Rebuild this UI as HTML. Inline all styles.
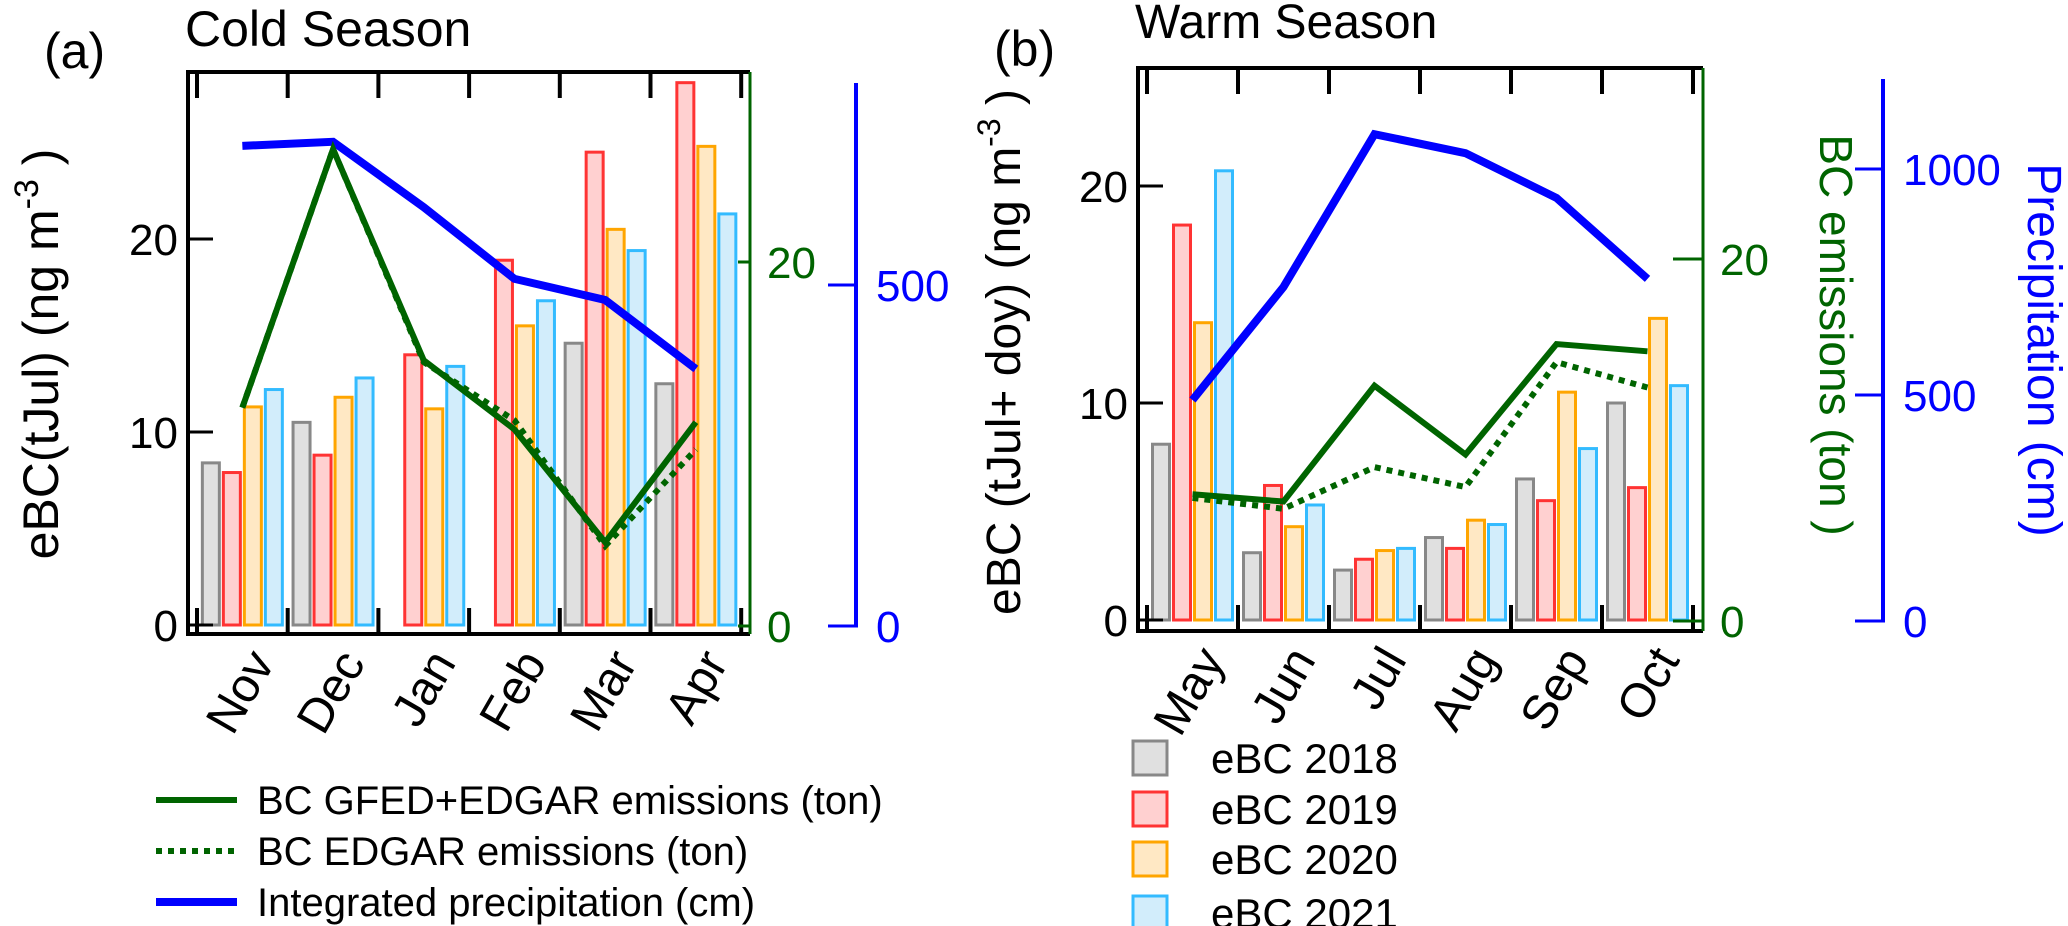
<!DOCTYPE html>
<html><head><meta charset="utf-8"><style>
body{margin:0;background:#fff}
svg{display:block;font-family:"Liberation Sans",Arial,sans-serif}
</style></head><body>
<svg id="chart" width="2068" height="926" viewBox="0 0 2068 926" xmlns="http://www.w3.org/2000/svg">
<g id="pa"></g>
<g id="pb"></g>
<g id="leg"></g>
</svg>
<script>
const coldMonths=["Nov","Dec","Jan","Feb","Mar","Apr"];
const cold2018=[8.4,10.5,null,null,14.6,12.5];
const cold2019=[7.9,8.8,14.0,18.9,24.5,28.1];
const cold2020=[11.3,11.8,11.2,15.5,20.5,24.8];
const cold2021=[12.2,12.8,13.4,16.8,19.4,21.3];
const coldGfed=[12.0,26.2,14.6,10.8,4.6,11.2];
const coldEdgar=[12.0,26.2,14.5,11.3,4.4,9.7];
const coldPrecip=[704,710,614,509,478,377];
const warmMonths=["May","Jun","Jul","Aug","Sep","Oct"];
const warm2018=[8.1,3.1,2.3,3.8,6.5,10.0];
const warm2019=[18.2,6.2,2.8,3.3,5.5,6.1];
const warm2020=[13.7,4.3,3.2,4.6,10.5,13.9];
const warm2021=[20.7,5.3,3.3,4.4,7.9,10.8];
const warmGfed=[7.0,6.6,13.0,9.2,15.3,14.9];
const warmEdgar=[6.8,6.2,8.5,7.4,14.3,12.9];
const warmPrecip=[489,739,1077,1035,936,757];
const leftTicksA=[0,10,20], greenTicks=[0,20], blueTicksA=[0,500];
const leftTicksB=[0,10,20], blueTicksB=[0,500,1000];

const NS="http://www.w3.org/2000/svg";
function mk(p,tag,at,txt){const e=document.createElementNS(NS,tag);for(const k in at)e.setAttribute(k,at[k]);if(txt!=null)e.textContent=txt;p.appendChild(e);return e;}
const strokes=["#888","#f33","#ffa500","#3bf"], fills=["#e0e0e0","#ffd0d0","#ffe8c4","#d2edfb"];
const years=["2018","2019","2020","2021"];

function panel(g,c){
  const yL=v=>c.y0-v*c.ls, yG=v=>c.y0g-v*c.gs, yB=v=>c.y0g-v*c.bs;
  const cx=i=>c.x0+c.toff+c.step*(i+0.5);
  c.series.forEach((s,k)=>{s.forEach((v,i)=>{if(v==null)return;
    const x=cx(i)-40+k*21;
    const r=mk(g,"rect",{x:x,y:yL(v),width:17,height:c.y0-yL(v),fill:fills[k],stroke:strokes[k],"stroke-width":3});
    
    });});
  const line=(arr,f,col,w,dash,name)=>{const p=mk(g,"polyline",{points:arr.map((v,i)=>cx(i)+","+f(v)).join(" "),fill:"none",stroke:col,"stroke-width":w,"stroke-linejoin":"miter"});
    if(dash)p.setAttribute("stroke-dasharray",dash);
    };
  line(c.precip,yB,"#0000ff",8,null,"precipitation-line");
  line(c.edgar,yG,"#006400",6,"6 6","bc-edgar-line");
  line(c.gfed,yG,"#006400",6,null,"bc-gfed-edgar-line");
  const fr=mk(g,"path",{d:`M${c.x0} ${c.top}H${c.xr}M${c.x0} ${c.top-2}V${c.bot}H${c.xr}`,stroke:"#000","stroke-width":4,fill:"none"});
  
  mk(g,"line",{x1:c.xr,y1:c.top,x2:c.xr,y2:c.bot,stroke:"#006400","stroke-width":3});
  for(let i=0;i<=6;i++){const x=c.x0+c.step*i+c.toff;
    mk(g,"line",{x1:x,y1:c.top,x2:x,y2:c.top+26,stroke:"#000","stroke-width":4});
    mk(g,"line",{x1:x,y1:c.bot,x2:x,y2:c.bot-26,stroke:"#000","stroke-width":4});}
  c.lt.forEach(v=>{mk(g,"line",{x1:c.x0,y1:yL(v),x2:c.x0+25,y2:yL(v),stroke:"#000","stroke-width":3});
    const t=mk(g,"text",{x:c.x0-10,y:yL(v)+16,"text-anchor":"end","font-size":44},v);
    });
  greenTicks.forEach(v=>{mk(g,"line",{x1:c.xr,y1:yG(v),x2:c.xr-c.gt,y2:yG(v),stroke:"#006400","stroke-width":3});
    const t=mk(g,"text",{x:c.xr+17,y:yG(v)+16,fill:"#006400","font-size":44},v);
    });
  const bx=c.bx;
  mk(g,"line",{x1:bx,y1:c.btop,x2:bx,y2:c.y0g+1.5,stroke:"#0000ff","stroke-width":4});
  c.bt.forEach(v=>{mk(g,"line",{x1:bx-28,y1:yB(v),x2:bx,y2:yB(v),stroke:"#0000ff","stroke-width":3});
    const t=mk(g,"text",{x:bx+20,y:yB(v)+16,fill:"#0000ff","font-size":44},v);
    });
  c.months.forEach((m,i)=>{const x=cx(i)+4,y=c.bot+12;
    const t=mk(g,"text",{x:x,y:y,"text-anchor":"end","font-size":48,transform:`rotate(-60 ${x} ${y})`,"dominant-baseline":"hanging"},m);
    });
}
const pa=document.getElementById("pa"), pb=document.getElementById("pb");
panel(pa,{months:coldMonths,series:[cold2018,cold2019,cold2020,cold2021],gfed:coldGfed,edgar:coldEdgar,precip:coldPrecip,
 x0:188,xr:750,step:90.7,toff:9,top:72,bot:634,y0:625,ls:19.3,y0g:626,gs:18.2,bs:0.682,lt:leftTicksA,gt:12,bx:856,btop:83,bt:blueTicksA});
panel(pb,{months:warmMonths,series:[warm2018,warm2019,warm2020,warm2021],gfed:warmGfed,edgar:warmEdgar,precip:warmPrecip,
 x0:1138,xr:1703,step:91,toff:9,top:68,bot:631,y0:620,ls:21.7,y0g:621,gs:18.1,bs:0.452,lt:leftTicksB,gt:30,bx:1883,btop:79,bt:blueTicksB});

function T(p,at,txt,name){const t=mk(p,"text",at,txt);return t;}
T(pa,{x:44,y:68,"font-size":50},"(a)","panel-a-label");
T(pa,{x:185,y:46,"font-size":50},"Cold Season","panel-a-title");
const ya=T(pa,{x:0,y:0,"font-size":50,"text-anchor":"middle",transform:"translate(58 354) rotate(-90)"},"","y-axis-title-a");
ya.innerHTML='eBC(tJul) (ng m<tspan dy="-20" font-size="34">-3</tspan><tspan dy="20"> )</tspan>';
T(pb,{x:994,y:66,"font-size":50},"(b)","panel-b-label");
T(pb,{x:1135,y:38,"font-size":48},"Warm Season","panel-b-title");
const yb=T(pb,{x:0,y:0,"font-size":48,"text-anchor":"middle",transform:"translate(1020 352) rotate(-90)"},"","y-axis-title-b");
yb.innerHTML='eBC (tJul+ doy) (ng m<tspan dy="-20" font-size="32">-3</tspan><tspan dy="20"> )</tspan>';
T(pb,{x:0,y:0,"font-size":46,fill:"#006400","text-anchor":"middle",transform:"translate(1820 335) rotate(90)"},"BC emissions (ton )","green-axis-title");
T(pb,{x:0,y:0,"font-size":48,fill:"#0000ff","text-anchor":"middle",transform:"translate(2028 350) rotate(90)"},"Precipitation  (cm)","blue-axis-title");

const leg=document.getElementById("leg");
const lineLeg=[["BC GFED+EDGAR emissions (ton)",null,"#006400"],["BC EDGAR emissions (ton)","6 6","#006400"],["Integrated precipitation (cm)",null,"#0000ff"]];
const lineLegY=[800,851,902];
lineLeg.forEach((e,i)=>{const l=mk(leg,"line",{x1:156,y1:lineLegY[i],x2:237,y2:lineLegY[i],stroke:e[2],"stroke-width":i==2?8:6});
  if(e[1])l.setAttribute("stroke-dasharray",e[1]);
  T(leg,{x:257,y:lineLegY[i]+14,"font-size":40},e[0],"legend-entry-"+i);});
const boxY=[758,809,859,913];
years.forEach((y,k)=>{const r=mk(leg,"rect",{x:1133,y:boxY[k]-17,width:34,height:34,fill:fills[k],stroke:strokes[k],"stroke-width":3});
  
  T(leg,{x:1211,y:boxY[k]+15,"font-size":42},"eBC "+y,"legend-entry-"+y);});
</script>
</body></html>
